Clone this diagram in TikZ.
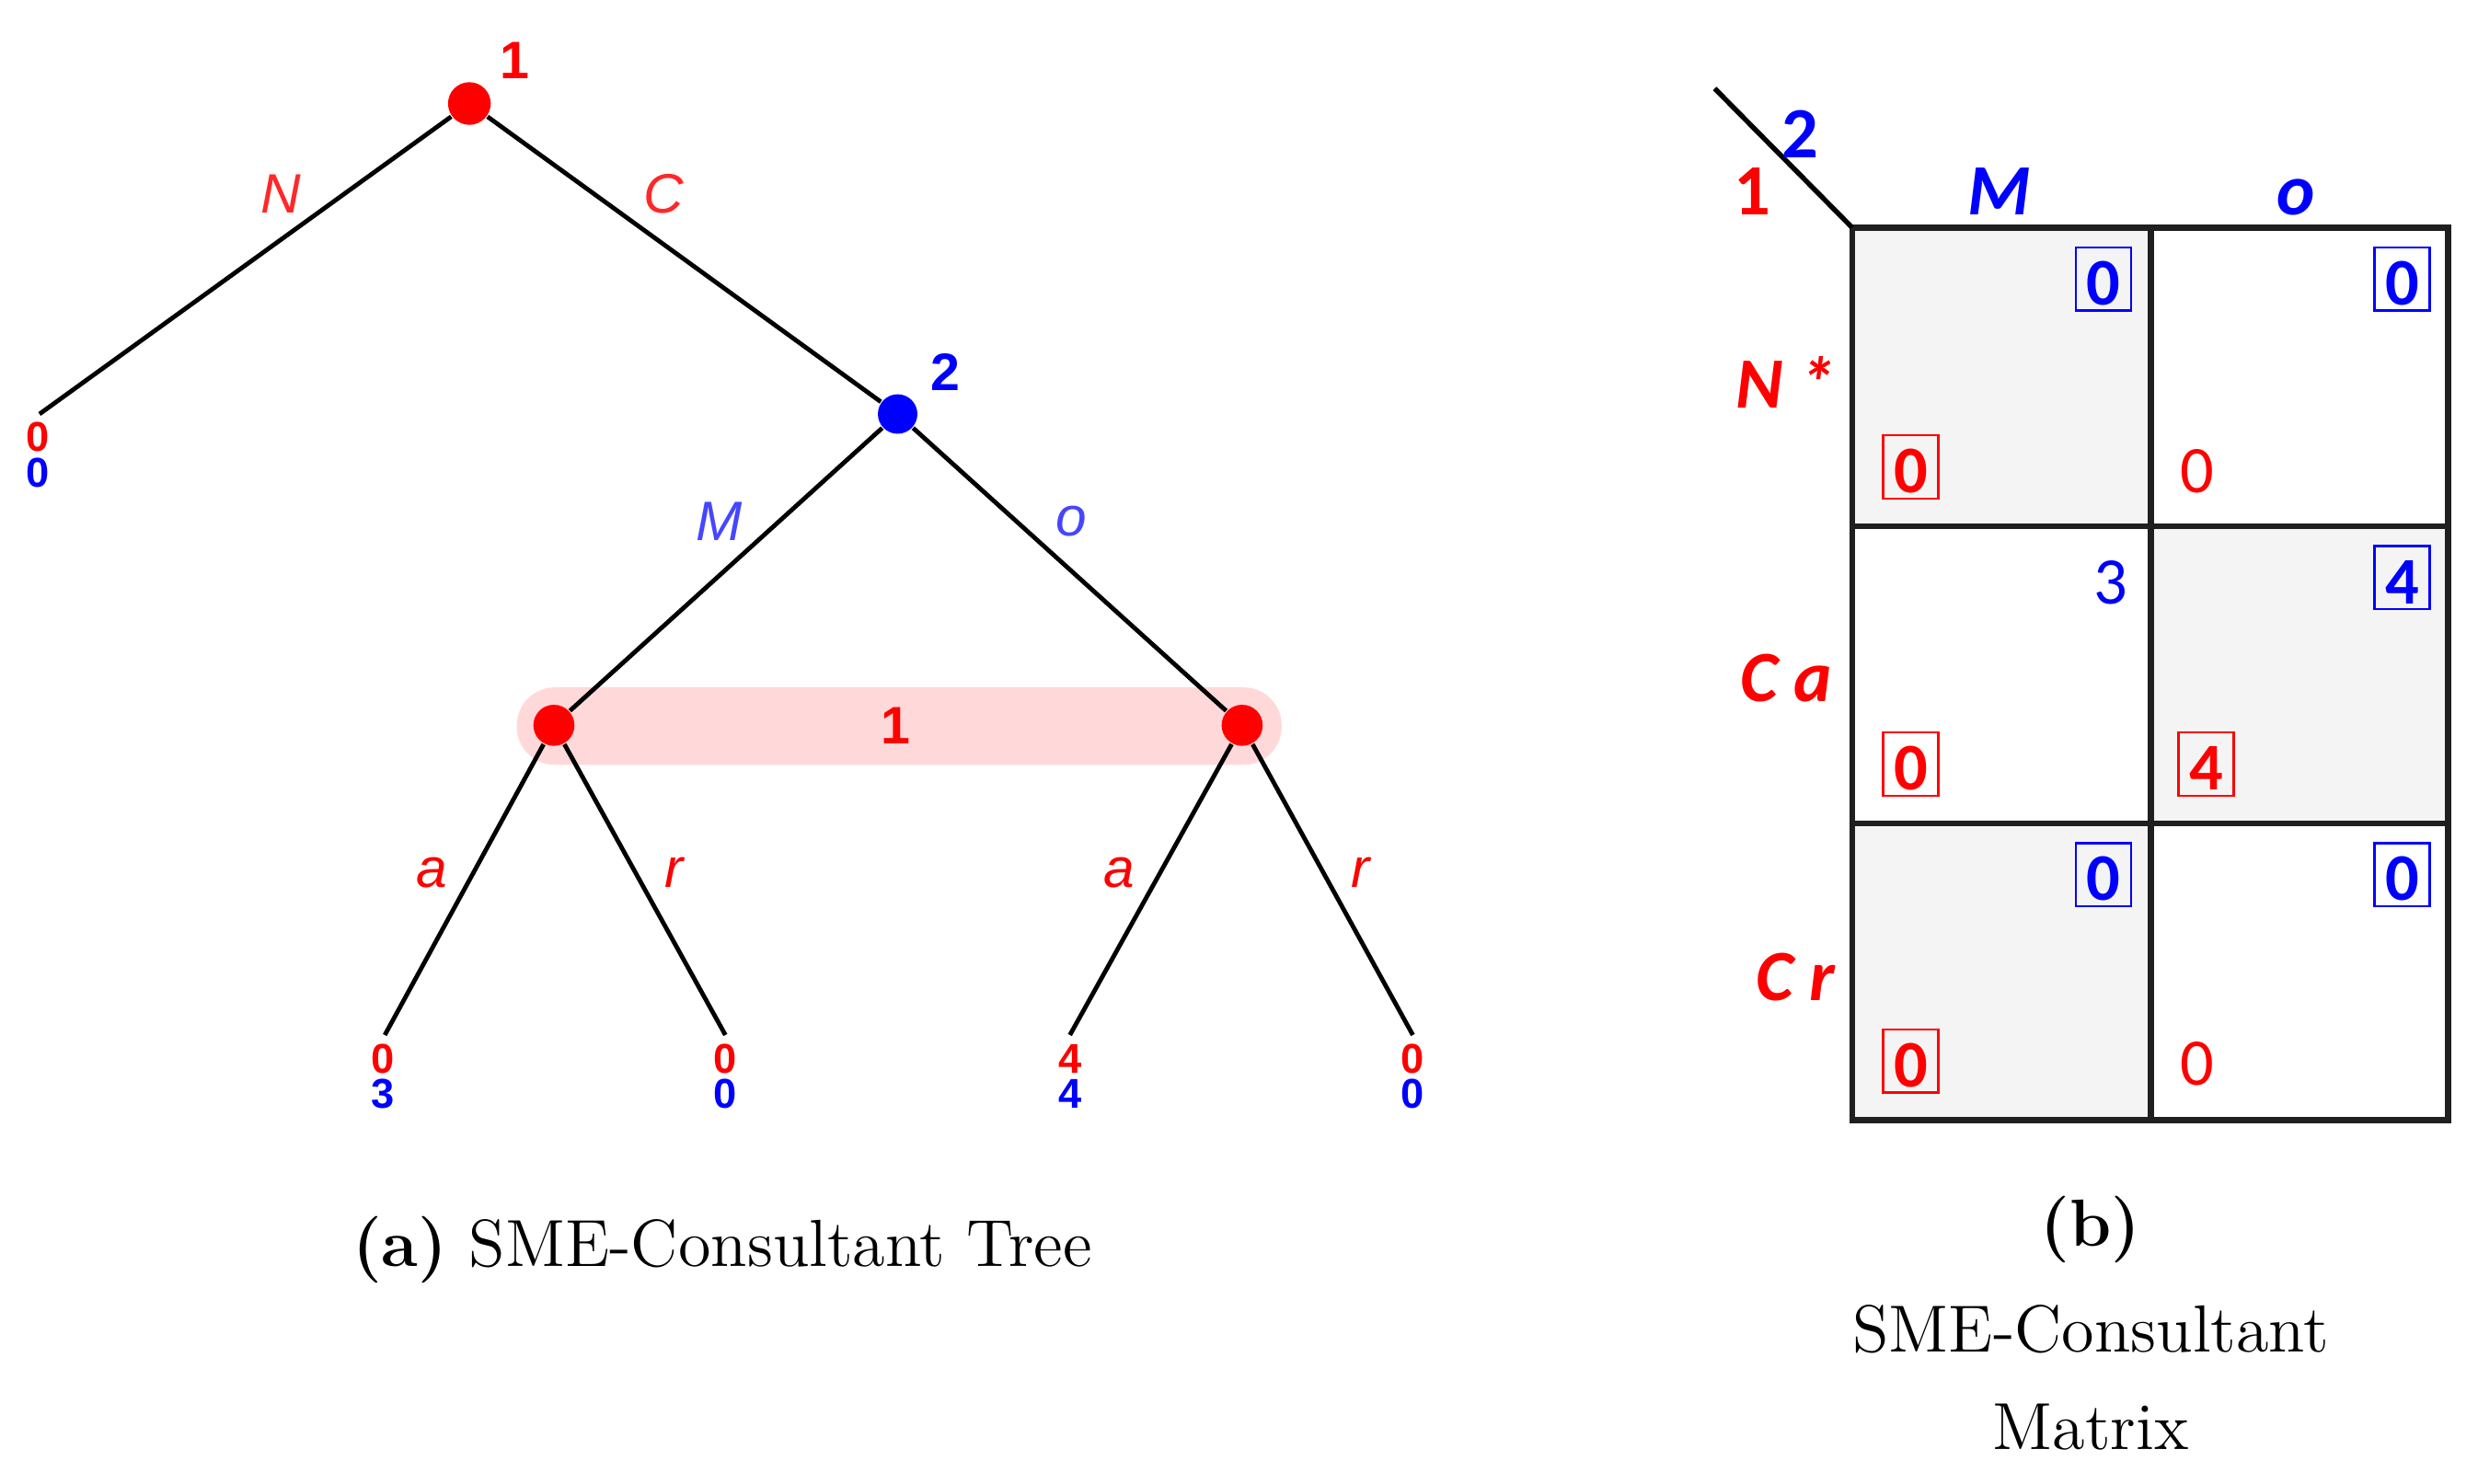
\documentclass[tikz,border=0pt]{standalone}
\usepackage{fontspec}
\newfontfamily\arialf{Liberation Sans}
\newfontfamily\gillf{Carlito}
\definecolor{pinkband}{RGB}{255,217,217}
\definecolor{cellgray}{RGB}{244,244,244}
\definecolor{lblue}{RGB}{70,70,255}
\definecolor{lred}{RGB}{255,40,40}
\begin{document}
\begin{tikzpicture}[x=0.1mm,y=-0.1mm,
  edge/.style={line width=0.8pt,black},
  rnode/.style={circle,fill=red,inner sep=0,minimum size=2.6mm},
  bnode/.style={circle,fill=blue,inner sep=0,minimum size=2.5mm},
  band/.style={fill=pinkband,rounded corners=2.4mm,minimum width=48.4mm,minimum height=4.9mm,inner sep=0},
  plabel/.style={font=\arialf\bfseries\fontsize{9.5}{10}\selectfont,inner sep=0},
  alabel/.style={font=\arialf\itshape\fontsize{10}{12}\selectfont,inner sep=0},
  pay/.style={font=\arialf\bfseries\fontsize{7.5}{8}\selectfont,inner sep=0},
  gridline/.style={line width=1.1pt,black!88},
  mhead/.style={font=\gillf\bfseries\itshape\fontsize{13}{15}\selectfont,inner sep=0},
  mplayer/.style={font=\gillf\bfseries\fontsize{13}{15}\selectfont,inner sep=0},
  boxd/.style={draw,line width=0.4pt,inner sep=0,minimum width=3.5mm,text height=3.65mm,text depth=0.35mm,
               font=\gillf\bfseries\fontsize{12}{14}\selectfont},
  plaindig/.style={inner sep=0,font=\gillf\fontsize{12}{14}\selectfont},
  captext/.style={font=\fontsize{12}{14}\selectfont,inner sep=0}
]
\useasboundingbox (0,0) rectangle (1568,939);

% ---------- tree ----------
\node[band] (iset) at (569,459.5) {};
\node[plabel,text=red] (isetlab) at (567,459) {1};

\node[rnode,minimum size=2.7mm] (root) at (297,65.5) {};
\node[bnode] (n2) at (568,262) {};
\node[rnode] (n3) at (350.5,459) {};
\node[rnode] (n4) at (786,459) {};
\coordinate (l0) at (25,262);
\coordinate (l1) at (243.5,655);
\coordinate (l2) at (459,655);
\coordinate (l3) at (677,655);
\coordinate (l4) at (894,655);

\draw[edge] (root) -- (l0);
\draw[edge] (root) -- (n2);
\draw[edge] (n2) -- (n3);
\draw[edge] (n2) -- (n4);
\draw[edge] (n3) -- (l1);
\draw[edge] (n3) -- (l2);
\draw[edge] (n4) -- (l3);
\draw[edge] (n4) -- (l4);

\node[plabel,text=red] (rootlab) at (326,38) {1};
\node[plabel,text=blue] (n2lab) at (598,235.5) {2};

\node[alabel,text=lred] (lN) at (177.5,122.5) {N};
\node[alabel,text=lred] (lC) at (420,122.5) {C};
\node[alabel,text=lblue] (lM) at (455,330) {M};
\node[alabel,text=lblue] (lo) at (678,330) {o};
\node[alabel,text=red] (la1) at (273,552) {a};
\node[alabel,text=red] (lr1) at (426.5,552) {r};
\node[alabel,text=red] (la2) at (708,552) {a};
\node[alabel,text=red] (lr2) at (861,552) {r};

\node[pay,text=red] (p0r) at (24,276.5) {0};
\node[pay,text=blue] (p0b) at (24,299.5) {0};
\node[pay,text=red] (p1r) at (242,670) {0};
\node[pay,text=blue] (p1b) at (242,692.5) {3};
\node[pay,text=red] (p2r) at (459,670) {0};
\node[pay,text=blue] (p2b) at (459,692.5) {0};
\node[pay,text=red] (p3r) at (677,670) {4};
\node[pay,text=blue] (p3b) at (677,692.5) {4};
\node[pay,text=red] (p4r) at (894,670) {0};
\node[pay,text=blue] (p4b) at (894,692.5) {0};

\node[captext] (capa) at (457,791) {\textbf{(a)} SME-Consultant Tree};

% ---------- matrix ----------
\fill[cellgray] (1172,144) rectangle (1361,333);
\fill[cellgray] (1361,333) rectangle (1549,521);
\fill[cellgray] (1172,521) rectangle (1361,709);
\draw[gridline] (1172,144) rectangle (1549,709);
\draw[gridline] (1361,144) -- (1361,709);
\draw[gridline] (1172,333) -- (1549,333);
\draw[gridline] (1172,521) -- (1549,521);

\coordinate (corner) at (1172,144);
\coordinate (diag) at (1085,56);
\draw[line width=0.9pt] (diag) -- (corner);

\node[mplayer,text=blue] (pl2) at (1139,85) {2};
\node[mplayer,text=red] (pl1) at (1109,121) {1};

\node[mhead,text=blue,anchor=base] (hM) at (1265,136) {M};
\node[mhead,text=blue,anchor=base] (ho) at (1453,136) {o};

\node[mhead,text=red,anchor=base east] (rN) at (1162,258) {N *};
\node[mhead,text=red,anchor=base east] (rCa) at (1160,444) {C a};
\node[mhead,text=red,anchor=base east] (rCr) at (1162,633) {C r};

% row 1
\node[boxd,draw=blue,text=blue] (b11) at (1331,176.5) {0};
\node[boxd,draw=blue,text=blue] (b12) at (1520,176.5) {0};
\node[boxd,draw=red,text=red] (r11) at (1209,295.5) {0};
\node[plaindig,text=red,anchor=base west] (r12) at (1379,312) {0};
% row 2
\node[plaindig,text=blue,anchor=base east] (b21) at (1347,382) {3};
\node[boxd,draw=blue,text=blue] (b22) at (1520,365.5) {4};
\node[boxd,draw=red,text=red] (r21) at (1209,483.5) {0};
\node[boxd,draw=red,text=red] (r22) at (1396,483.5) {4};
% row 3
\node[boxd,draw=blue,text=blue] (b31) at (1331,553.5) {0};
\node[boxd,draw=blue,text=blue] (b32) at (1520,553.5) {0};
\node[boxd,draw=red,text=red] (r31) at (1209,671.5) {0};
\node[plaindig,text=red,anchor=base west] (r32) at (1379,687) {0};

\node[captext] (capb1) at (1323,778) {\textbf{(b)}};
\node[captext] (capb2) at (1323,841) {SME-Consultant};
\node[captext] (capb3) at (1323,903) {Matrix};
\end{tikzpicture}
\end{document}
